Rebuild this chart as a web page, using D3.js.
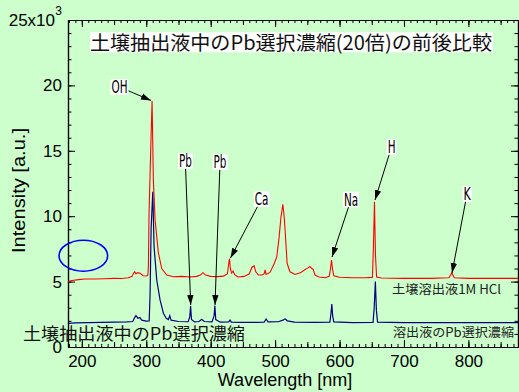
<!DOCTYPE html>
<html><head><meta charset="utf-8">
<script src="https://cdn.jsdelivr.net/npm/d3@7"></script>
<style>body{margin:0;background:#ccffcc;overflow:hidden}</style>
</head><body><svg id="c" width="519" height="392"></svg>
<script>
// ---- data ----
const redWl  = [178.5,185,195,205,220,235,250,262,272,278,280,282,284,287,291,295,301,302.5,303.3,304.3,307,309,311,313.7,318.8,324,331.8,342,355,368,378,384,388,392,400,410,420,426,428,429.2,430.5,432.5,434.8,437,442,452,460,464,467.4,470,474,480,483,484.5,486,492,498,502.6,506.2,509,512,514,515.5,518.6,523,531,540,546,551,554,557,559,562,568,578,584,586,587.5,589,591,600,620,640,651,652.5,654.2,655.8,657.5,665,700,740,770,774.4,778,800,840,877];
const redVal = [5.02,5.08,5.15,5.2,5.2,5.22,5.25,5.24,5.3,5.4,5.62,5.75,5.6,5.68,5.62,5.45,5.43,5.5,6.2,10.2,15.3,18.8,12.8,9.7,7.2,6.0,5.5,5.37,5.4,5.35,5.4,5.5,5.68,5.5,5.4,5.38,5.42,5.6,6.4,6.75,6.0,5.65,5.8,5.55,5.35,5.4,5.6,6.1,6.2,5.75,5.5,5.5,5.6,5.9,5.55,5.7,6.3,6.9,8.4,9.9,10.9,10.0,8.9,6.4,5.75,5.55,5.7,5.9,6.05,6.15,6.0,5.95,5.5,5.35,5.3,5.4,6.0,6.65,6.0,5.45,5.33,5.3,5.3,5.32,7.5,11.1,7.0,5.35,5.27,5.25,5.25,5.3,5.68,5.3,5.25,5.25,5.25];
const blueWl  = [178.5,190,210,230,250,270,279,282,284,287,290,293,300,304.5,305.9,307.5,310.1,312.1,316.3,321.4,326.6,331,334.3,336.5,338.5,350,365,367.5,368.8,370.2,375,382,386,390,402,405.3,406.5,407.8,415,428,430,432,450,470,483,486,489,505,512,515.5,519,530,560,585,586.8,588,589.3,591,620,652,653.8,655.6,657.2,659,700,800,877];
const blueVal = [1.8,1.85,1.86,1.88,1.9,1.92,1.95,2.25,2.4,2.2,2.25,2.05,1.98,2.0,4.0,9.0,11.87,7.67,5.1,3.6,2.58,2.2,2.1,2.4,2.05,1.95,1.93,2.3,3.13,2.1,1.92,1.95,2.12,1.95,1.92,2.4,3.16,2.1,1.9,1.92,2.06,1.9,1.88,1.88,1.9,2.14,1.92,1.93,2.05,2.14,2.0,1.9,1.88,1.9,2.6,3.29,2.4,1.92,1.87,1.88,3.0,5.0,2.8,1.9,1.86,1.86,1.86];

const xTicks = [200,300,400,500,600,700,800];
const yTicks = [0,5,10,15,20,25];

const annoLabels   = ["OH","Pb","Pb","Ca","Na","H","K"];
const annoLabelWl  = [258.4,360.6,414.5,478.9,617.8,680.7,797.9];
const annoLabelVal = [19.88,14.22,14.14,11.31,11.28,15.29,11.7];
const annoTipWl    = [307.3,369.0,406.7,430.7,588.3,655.1,774.6];
const annoTipVal   = [18.85,3.21,3.21,6.80,6.88,11.24,5.66];

const titleText = "土壌抽出液中のPb選択濃縮(20倍)の前後比較";
const sideText  = "土壌抽出液中のPb選択濃縮";
const redName   = "土壌溶出液1M HCl";
const blueName  = "溶出液のPb選択濃縮";
const circleWl = 202.3, circleVal = 6.98;

// ---- layout ----
const L=68, R=518, T=20, B=347;
const svg = d3.select("#c");
const x = d3.scaleLinear().domain([178.5,877]).range([L,R]);
const y = d3.scaleLinear().domain([0,25]).range([B,T]);

svg.append("rect").attr("width",519).attr("height",392).attr("fill","#ccffcc");

const defs = svg.append("defs");
defs.append("clipPath").attr("id","clip").append("rect")
  .attr("x",L).attr("y",T).attr("width",R-L).attr("height",B-T);
defs.append("marker").attr("id","ah").attr("markerUnits","userSpaceOnUse")
  .attr("viewBox","0 -4 10 8").attr("refX",10).attr("refY",0)
  .attr("markerWidth",10).attr("markerHeight",8).attr("orient","auto")
  .append("path").attr("d","M0,-3.2L10,0L0,3.2Z").attr("fill","#000");

// axes
const font = "'Liberation Sans', Arial, sans-serif";
function styleAxis(g){
  g.selectAll("path.domain").attr("stroke","#000").attr("stroke-width",1.2);
  g.selectAll("line").attr("stroke","#000");
  g.selectAll("text").attr("font-family",font).attr("font-size",17).attr("fill","#000");
}
const minorX = d3.range(180,880,10), medX = d3.range(200,900,50);
const minorY = d3.range(0,26,1);

function addX(gen, ty, labels){
  [[minorX,3],[medX,5],[xTicks,7]].forEach(([v,s],i)=>{
    const a = gen(x).tickValues(v).tickSize(-s).tickSizeOuter(0)
      .tickFormat(labels && i===2 ? d3.format("d") : "").tickPadding(8);
    svg.append("g").attr("transform",`translate(0,${ty})`).call(a).call(styleAxis);
  });
}
function addY(gen, tx, labels){
  [[minorY,3.5],[yTicks,7]].forEach(([v,s],i)=>{
    const a = gen(y).tickValues(v).tickSize(-s).tickSizeOuter(0)
      .tickFormat(labels && i===1 ? (d=> d===25 ? "25x10" : d3.format("d")(d)) : "").tickPadding(6);
    const g = svg.append("g").attr("transform",`translate(${tx},0)`).call(a).call(styleAxis);
    if(labels && i===1){
      g.selectAll(".tick text").filter(d=>d===25).attr("dx",-7);
      g.selectAll(".tick").filter(d=>d===25).append("text")
        .attr("x",-6).attr("y",-6).attr("text-anchor","end")
        .attr("font-family",font).attr("font-size",12).attr("fill","#000").text("3");
    }
  });
}
addX(d3.axisBottom, B, true);
addX(d3.axisTop, T, false);
addY(d3.axisLeft, L, true);
addY(d3.axisRight, R, false);

// spectra
const line = d3.line().x(d=>x(d[0])).y(d=>y(d[1]));
const plot = svg.append("g").attr("clip-path","url(#clip)");
plot.append("path").datum(d3.zip(blueWl,blueVal)).attr("d",line)
  .attr("fill","none").attr("stroke","#000080").attr("stroke-width",1.2);
plot.append("path").datum(d3.zip(redWl,redVal)).attr("d",line)
  .attr("fill","none").attr("stroke","#ff0000").attr("stroke-width",1.1);

// axis titles
svg.append("text").attr("x",285).attr("y",386).attr("text-anchor","middle")
  .attr("font-family",font).attr("font-size",18).text("Wavelength [nm]");
svg.append("text").attr("transform","translate(25,190.5) rotate(-90)").attr("text-anchor","middle")
  .attr("font-family",font).attr("font-size",18)
  .attr("textLength",125).attr("lengthAdjust","spacingAndGlyphs").text("Intensity [a.u.]");

// title
const jp = "'Noto Sans CJK JP', sans-serif";
svg.append("rect").attr("x",90).attr("y",32.3).attr("width",403).attr("height",20).attr("fill","#fff");
svg.append("text").attr("x",90).attr("y",49.5).attr("font-family",jp).attr("font-size",19.5)
  .attr("textLength",402).attr("lengthAdjust","spacingAndGlyphs").attr("fill","#111").text(titleText);

// side text & series names
svg.append("text").attr("x",23).attr("y",339.5).attr("font-family",jp).attr("font-size",17.5)
  .attr("textLength",222).attr("lengthAdjust","spacingAndGlyphs").attr("fill","#111").text(sideText);
svg.append("text").attr("x",392).attr("y",293.5).attr("font-family",jp).attr("font-size",12.5)
  .attr("textLength",109).attr("lengthAdjust","spacingAndGlyphs").attr("fill","#222").text(redName);
svg.append("text").attr("x",393).attr("y",336.5).attr("font-family",jp).attr("font-size",12.5)
  .attr("textLength",121).attr("lengthAdjust","spacingAndGlyphs").attr("fill","#222").text(blueName);

// ellipse
svg.append("ellipse").attr("cx",x(circleWl)).attr("cy",y(circleVal)).attr("rx",24.3).attr("ry",15.5)
  .attr("fill","none").attr("stroke","#0000ff").attr("stroke-width",1.6);

// annotations
const narrow = "'Liberation Sans Narrow','DejaVu Sans Condensed','Liberation Sans',sans-serif";
annoLabels.forEach((lab,i)=>{
  const cx = x(annoLabelWl[i]), cy = y(annoLabelVal[i]);
  const tx = x(annoTipWl[i]), ty = y(annoTipVal[i]);
  const g = svg.append("g");
  const r = g.append("rect").attr("fill","#fff");
  const t = g.append("text").attr("x",cx).attr("y",cy).attr("dy","0.36em").attr("text-anchor","middle")
    .attr("font-family",narrow).attr("font-size",17.5).attr("fill","#000").text(lab);
  const w0 = t.node().getBBox().width;
  const w = w0*0.66;
  t.attr("textLength",w).attr("lengthAdjust","spacingAndGlyphs");
  const hw = w/2+1, hh = 7.8;
  r.attr("x",cx-hw).attr("y",cy-hh).attr("width",2*hw).attr("height",2*hh);
  const dx = tx-cx, dy = ty-cy;
  const tt = Math.min(Math.abs(hw/dx)||Infinity, Math.abs(hh/dy)||Infinity);
  svg.append("line").attr("x1",cx+dx*tt).attr("y1",cy+dy*tt).attr("x2",tx).attr("y2",ty)
    .attr("stroke","#000").attr("stroke-width",1).attr("marker-end","url(#ah)");
});
</script></body></html>
